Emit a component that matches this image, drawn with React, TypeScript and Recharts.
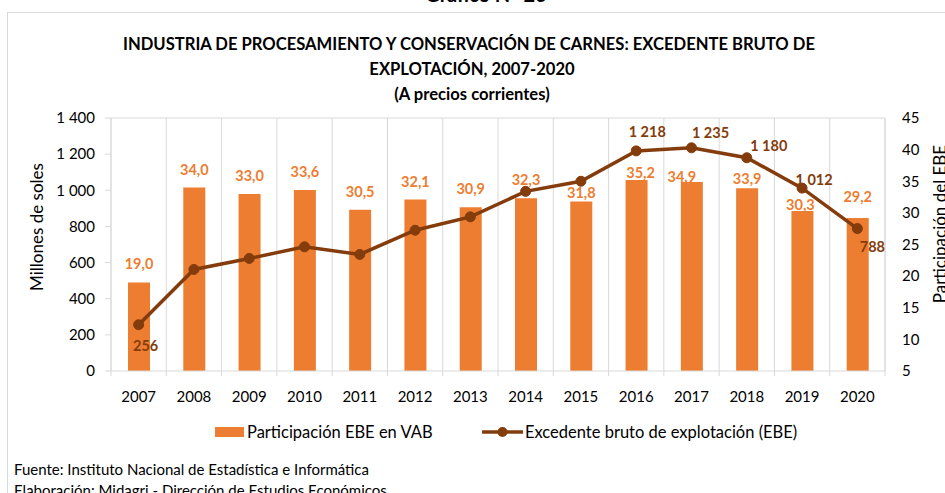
import {
  Bar,
  CartesianGrid,
  ComposedChart,
  LabelList,
  Line,
  ReferenceLine,
  XAxis,
  YAxis,
} from "recharts";

const YEARS = [
  "2007", "2008", "2009", "2010", "2011", "2012", "2013",
  "2014", "2015", "2016", "2017", "2018", "2019", "2020",
];
// Participación EBE en VAB (%)
const SHARE = [19.0, 34.0, 33.0, 33.6, 30.5, 32.1, 30.9, 32.3, 31.8, 35.2, 34.9, 33.9, 30.3, 29.2];
const SHARE_LABELS = [
  "19,0", "34,0", "33,0", "33,6", "30,5", "32,1", "30,9",
  "32,3", "31,8", "35,2", "34.9", "33,9", "30,3", "29,2",
];
// Excedente bruto de explotación (millones de soles)
const EBE = [256, 562, 623, 687, 645, 779, 853, 994, 1050, 1218, 1235, 1180, 1012, 788];
const LEFT_TICKS = [0, 200, 400, 600, 800, 1000, 1200, 1400];
const RIGHT_TICKS = [5, 10, 15, 20, 25, 30, 35, 40, 45];

const W = 945;
const H = 493;
const PLOT_LEFT = 111;
const PLOT_RIGHT = 885;
const PLOT_BOTTOM = 371;
const BAND = (PLOT_RIGHT - PLOT_LEFT) / YEARS.length;

const FONT = "Lato, 'Open Sans', sans-serif";
const ORANGE = "#ED7D31";
const BROWN = "#843C0C";
const GRID = "#D9D9D9";

// label placement (dx, dy) relative to the mark
const BAR_LABEL_SHIFT: Record<number, [number, number]> = {
  8: [0, -9],
  9: [4, -7],
  10: [-10, -5],
  11: [0, -10],
  12: [-2, -6],
  13: [0, -21],
};
const LINE_LABEL_SHIFT: Record<number, [number, number]> = {
  0: [7, 21],
  9: [11, -19],
  10: [19, -15],
  11: [22, -12],
  12: [12, -9],
  13: [15, 18],
};

const data = YEARS.map((year, i) => ({
  year,
  share: SHARE[i],
  ebe: EBE[i],
}));

const fmtThousands = (v: number) =>
  String(v).replace(/\B(?=(\d{3})+(?!\d))/g, " ");

function BarLabel(props: any) {
  const { x, y, width, index } = props;
  const [dx, dy] = BAR_LABEL_SHIFT[index] ?? [0, -18.5];
  return (
    <text
      x={Number(x) + Number(width) / 2 + dx}
      y={Number(y) + dy}
      textAnchor="middle"
      dominantBaseline="central"
      fill={ORANGE}
      fontSize={14.5}
      fontWeight={700}
      fontFamily={FONT}
    >
      {SHARE_LABELS[index]}
    </text>
  );
}

function LineLabel(props: any) {
  const { x, y, index } = props;
  const shift = LINE_LABEL_SHIFT[index];
  if (!shift) return null;
  return (
    <text
      x={Number(x) + shift[0]}
      y={Number(y) + shift[1]}
      textAnchor="middle"
      dominantBaseline="central"
      fill={BROWN}
      fontSize={14.5}
      fontWeight={700}
      fontFamily={FONT}
    >
      {fmtThousands(EBE[index])}
    </text>
  );
}

function YearTick(props: any) {
  const { x, payload, index } = props;
  const left = x - BAND / 2;
  return (
    <g>
      <line x1={left} x2={left} y1={PLOT_BOTTOM} y2={PLOT_BOTTOM + 5} stroke={GRID} />
      {index === YEARS.length - 1 && (
        <line x1={x + BAND / 2} x2={x + BAND / 2} y1={PLOT_BOTTOM} y2={PLOT_BOTTOM + 5} stroke={GRID} />
      )}
      <text
        x={x}
        y={396}
        textAnchor="middle"
        dominantBaseline="central"
        fill="#000"
        fontSize={15}
        fontFamily={FONT}
      >
        {payload.value}
      </text>
    </g>
  );
}

export default function App() {
  return (
    <div
      style={{
        position: "absolute",
        left: 0,
        top: 0,
        width: W,
        height: H,
        overflow: "hidden",
        background: "#fff",
        fontFamily: FONT,
      }}
    >
      <div
        style={{
          position: "absolute",
          left: 7,
          top: 12,
          width: W,
          height: H,
          border: `1px solid ${GRID}`,
        }}
      />
      <div style={{ position: "absolute", left: 0, top: 0 }}>
        <ComposedChart
          width={W}
          height={H}
          data={data}
          margin={{ top: 118, right: 10, bottom: 92, left: 51 }}
        >
          <CartesianGrid
            horizontal={false}
            stroke={GRID}
            verticalCoordinatesGenerator={({ offset }: any) =>
              YEARS.map((_, i) => offset.left + (i * offset.width) / YEARS.length).concat(
                offset.left + offset.width
              )
            }
          />
          <XAxis
            dataKey="year"
            interval={0}
            height={30}
            tickLine={false}
            axisLine={{ stroke: GRID }}
            tick={<YearTick />}
          />
          <YAxis
            yAxisId="left"
            width={60}
            domain={[0, 1400]}
            ticks={LEFT_TICKS}
            tickFormatter={fmtThousands}
            axisLine={{ stroke: GRID }}
            tickLine={{ stroke: GRID }}
            tickSize={6}
            tickMargin={10}
            tick={{ fontSize: 15, fill: "#000", fontFamily: FONT }}
          />
          <YAxis
            yAxisId="right"
            orientation="right"
            width={50}
            domain={[5, 45]}
            ticks={RIGHT_TICKS}
            axisLine={{ stroke: GRID }}
            tickLine={false}
            tickSize={6}
            tickMargin={11}
            tick={{ fontSize: 15, fill: "#000", fontFamily: FONT, textAnchor: "start" }}
          />
          <ReferenceLine yAxisId="left" y={1400} stroke={GRID} />
          <Bar
            yAxisId="right"
            dataKey="share"
            fill={ORANGE}
            barSize={22}
            isAnimationActive={false}
          >
            <LabelList dataKey="share" content={<BarLabel />} />
          </Bar>
          <Line
            yAxisId="left"
            dataKey="ebe"
            stroke={BROWN}
            strokeWidth={3.5}
            dot={{ r: 5, fill: BROWN, stroke: BROWN, strokeWidth: 1 }}
            isAnimationActive={false}
          >
            <LabelList dataKey="ebe" content={<LineLabel />} />
          </Line>
        </ComposedChart>
      </div>
      <svg
        width={W}
        height={H}
        style={{ position: "absolute", left: 0, top: 0, pointerEvents: "none" }}
        fontFamily={FONT}
      >
        <text x={486} y={2} textAnchor="middle" fontSize={20} fontWeight={700} fill="#000">
          Gráfico N° 26
        </text>
        <g fontSize={16.6} fontWeight={700} fill="#000" textAnchor="middle">
          <text x={469} y={44} dominantBaseline="central">
            INDUSTRIA DE PROCESAMIENTO Y CONSERVACIÓN DE CARNES: EXCEDENTE BRUTO DE
          </text>
          <text x={472} y={69} dominantBaseline="central">
            EXPLOTACIÓN, 2007-2020
          </text>
          <text x={472} y={94} dominantBaseline="central">
            (A precios corrientes)
          </text>
        </g>
        <text
          x={36}
          y={227}
          transform="rotate(-90 36 227)"
          textAnchor="middle"
          dominantBaseline="central"
          fontSize={17}
          fill="#000"
        >
          Millones de soles
        </text>
        <text
          x={939}
          y={224}
          transform="rotate(-90 939 224)"
          textAnchor="middle"
          dominantBaseline="central"
          fontSize={17}
          fill="#000"
        >
          Participación del EBE
        </text>
        {/* legend */}
        <rect x={215} y={427} width={29} height={10} fill={ORANGE} />
        <text x={247} y={432} dominantBaseline="central" fontSize={16.5} fill="#000">
          Participación EBE en VAB
        </text>
        <line x1={482} x2={523} y1={432} y2={432} stroke={BROWN} strokeWidth={3.5} />
        <circle cx={502.5} cy={432} r={5} fill={BROWN} />
        <text x={525} y={432} dominantBaseline="central" fontSize={16.5} fill="#000">
          Excedente bruto de explotación (EBE)
        </text>
        <g fontSize={15} fill="#000">
          <text x={14} y={469} dominantBaseline="central">
            Fuente: Instituto Nacional de Estadística e Informática
          </text>
          <text x={14} y={490} dominantBaseline="central">
            Elaboración: Midagri - Dirección de Estudios Económicos
          </text>
        </g>
      </svg>
    </div>
  );
}
